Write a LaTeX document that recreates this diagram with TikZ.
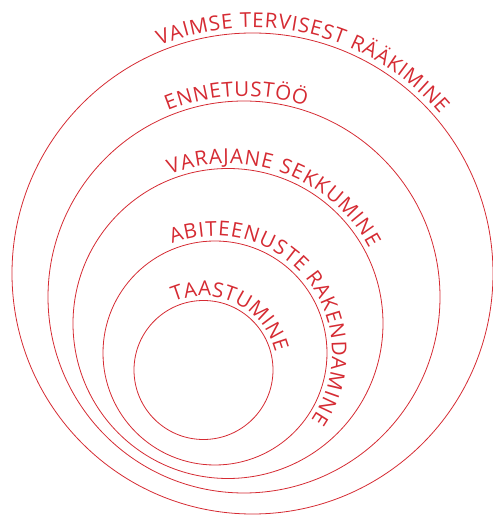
\documentclass[tikz,border=0pt]{standalone}
\usepackage{fontspec}
\setmainfont{Open Sans}
\usepackage{tikz}
\usetikzlibrary{decorations.text}
\definecolor{ringred}{HTML}{D52B33}

\begin{document}
\begin{tikzpicture}[x=1pt, y=1pt,
  ring/.style={circle, draw=ringred, line width=0.8pt, inner sep=0pt},
  ringtext/.style={decorate, decoration={text along path, text align=fit to path,
    text={|\fontsize{20.5}{20.5}\selectfont\color{ringred}|#1}}}]
  \useasboundingbox (0,0) rectangle (493,515);

  % Circles, outer to inner
  \node[ring, minimum size=481pt] (puhul)  at (252.5,241.5) {};
  \node[ring, minimum size=392pt] (ennetus) at (244,218) {};
  \node[ring, minimum size=310pt] (varajane) at (228,191.5) {};
  \node[ring, minimum size=224pt] (abi) at (215,162) {};
  \node[ring, minimum size=139pt] (taastus) at (203.5,145) {};

  % Labels along the circles
  \path[ringtext={VAIMSE TERVISEST RÄÄKIMINE}] (puhul.center) ++(112.2:246) arc[start angle=112.2, end angle=40.3, radius=246];
  \path[ringtext={ENNETUSTÖÖ}] (ennetus.center) ++(112.3:201) arc[start angle=112.3, end angle=72.1, radius=201];
  \path[ringtext={VARAJANE SEKKUMINE}] (varajane.center) ++(111.3:160) arc[start angle=111.3, end angle=28, radius=160];
  \path[ringtext={ABITEENUSTE RAKENDAMINE}] (abi.center) ++(111.5:117) arc[start angle=111.5, end angle=-35, radius=117];
  \path[ringtext={TAASTUMINE}] (taastus.center) ++(113.5:74) arc[start angle=113.5, end angle=14, radius=74];
\end{tikzpicture}
\end{document}
